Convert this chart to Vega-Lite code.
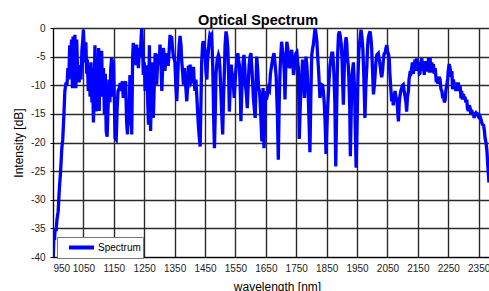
{
  "$schema": "https://vega.github.io/schema/vega-lite/v6.json",
  "width": 436,
  "height": 229,
  "autosize": "none",
  "padding": {"left": 53, "top": 28, "right": 0, "bottom": 34},
  "background": "white",
  "config": {
    "view": {"stroke": null},
    "font": "Liberation Sans",
    "axis": {"gridColor": "#2a2a2a", "gridWidth": 1.4, "gridOpacity": 1, "domainColor": "#000", "domainWidth": 1, "labelColor": "#222", "labelFontSize": 10, "titleFontSize": 12, "titleFontWeight": "normal", "titleColor": "#000", "tickColor": "#000"}
  },
  "title": {"text": "Optical Spectrum", "fontSize": 14.5, "fontWeight": "bold", "color": "#000", "anchor": "middle", "dx": -13, "dy": 8, "offset": 3},
  "data": {"values": [
    {"nm":951,"dB":-40},{"nm":953,"dB":-36},{"nm":955,"dB":-37},{"nm":957,"dB":-35},{"nm":960,"dB":-35.5},{"nm":963,"dB":-33.5},{"nm":967,"dB":-32},{"nm":971,"dB":-28},{"nm":975,"dB":-25},{"nm":979,"dB":-21},{"nm":982,"dB":-19.5},{"nm":986,"dB":-15},{"nm":989,"dB":-11},{"nm":993,"dB":-9.5},{"nm":996,"dB":-10},{"nm":999,"dB":-7},{"nm":1002,"dB":-9},{"nm":1005,"dB":-3},{"nm":1008,"dB":-8},{"nm":1011,"dB":-2},{"nm":1014,"dB":-10.5},{"nm":1016,"dB":-1.5},{"nm":1019,"dB":-7},{"nm":1022,"dB":-1.2},{"nm":1025,"dB":-10.5},{"nm":1028,"dB":-2},{"nm":1031,"dB":-8},{"nm":1034,"dB":-6.5},{"nm":1036,"dB":-9.5},{"nm":1039,"dB":-6.5},{"nm":1042,"dB":-9},{"nm":1045,"dB":-4},{"nm":1048,"dB":-2},{"nm":1050,"dB":-0.3},{"nm":1052,"dB":-3},{"nm":1055,"dB":-6},{"nm":1058,"dB":-2.5},{"nm":1061,"dB":-8},{"nm":1063,"dB":-5.5},{"nm":1066,"dB":-11},{"nm":1069,"dB":-7},{"nm":1072,"dB":-12},{"nm":1075,"dB":-6},{"nm":1078,"dB":-13},{"nm":1080,"dB":-7},{"nm":1083,"dB":-16.5},{"nm":1086,"dB":-10},{"nm":1088,"dB":-3},{"nm":1091,"dB":-14.6},{"nm":1094,"dB":-5},{"nm":1097,"dB":-13},{"nm":1100,"dB":-3.5},{"nm":1102,"dB":-14.5},{"nm":1105,"dB":-4.5},{"nm":1108,"dB":-10},{"nm":1110,"dB":-4},{"nm":1113,"dB":-12},{"nm":1116,"dB":-7},{"nm":1119,"dB":-15},{"nm":1122,"dB":-8},{"nm":1125,"dB":-18},{"nm":1128,"dB":-19},{"nm":1131,"dB":-14},{"nm":1134,"dB":-9},{"nm":1137,"dB":-13},{"nm":1140,"dB":-7},{"nm":1143,"dB":-5.2},{"nm":1146,"dB":-12},{"nm":1149,"dB":-5.5},{"nm":1152,"dB":-13},{"nm":1154,"dB":-19.2},{"nm":1158,"dB":-19.5},{"nm":1161,"dB":-14},{"nm":1164,"dB":-11},{"nm":1168,"dB":-10.5},{"nm":1171,"dB":-9.6},{"nm":1175,"dB":-11},{"nm":1178,"dB":-9.3},{"nm":1181,"dB":-12.2},{"nm":1185,"dB":-10},{"nm":1189,"dB":-9.3},{"nm":1192,"dB":-16.3},{"nm":1195,"dB":-18.6},{"nm":1198,"dB":-13},{"nm":1200,"dB":-17},{"nm":1203,"dB":-8.2},{"nm":1206,"dB":-13},{"nm":1209,"dB":-18.6},{"nm":1212,"dB":-5},{"nm":1214,"dB":-2.6},{"nm":1217,"dB":-5},{"nm":1220,"dB":-3.5},{"nm":1223,"dB":-6.5},{"nm":1225,"dB":-2.9},{"nm":1228,"dB":-5},{"nm":1231,"dB":-7},{"nm":1234,"dB":-3.5},{"nm":1237,"dB":-5},{"nm":1240,"dB":-1.5},{"nm":1242,"dB":0},{"nm":1245,"dB":-4},{"nm":1247,"dB":-8.2},{"nm":1250,"dB":-6},{"nm":1253,"dB":-11},{"nm":1256,"dB":-9},{"nm":1258,"dB":-6.5},{"nm":1261,"dB":-12},{"nm":1264,"dB":-16.9},{"nm":1267,"dB":-3},{"nm":1269,"dB":-10},{"nm":1271,"dB":-18},{"nm":1275,"dB":-6},{"nm":1277,"dB":-9},{"nm":1280,"dB":-15.7},{"nm":1283,"dB":-10},{"nm":1286,"dB":-4.4},{"nm":1289,"dB":-7},{"nm":1291,"dB":-9.9},{"nm":1294,"dB":-6},{"nm":1296,"dB":-4.5},{"nm":1299,"dB":-6.5},{"nm":1302,"dB":-2.9},{"nm":1305,"dB":-6},{"nm":1308,"dB":-11},{"nm":1311,"dB":-6.5},{"nm":1313,"dB":-3.5},{"nm":1316,"dB":-5},{"nm":1318,"dB":-7.5},{"nm":1321,"dB":-5.5},{"nm":1324,"dB":-4.4},{"nm":1327,"dB":-5},{"nm":1329,"dB":-6.6},{"nm":1332,"dB":-4},{"nm":1335,"dB":-1.2},{"nm":1338,"dB":-3},{"nm":1340,"dB":-1.4},{"nm":1343,"dB":-3.5},{"nm":1346,"dB":-5},{"nm":1349,"dB":-5.5},{"nm":1351,"dB":-6},{"nm":1354,"dB":-10},{"nm":1357,"dB":-12.8},{"nm":1360,"dB":-9},{"nm":1362,"dB":-6},{"nm":1365,"dB":-3},{"nm":1368,"dB":-1.4},{"nm":1371,"dB":-3},{"nm":1373,"dB":-5.5},{"nm":1376,"dB":-7.5},{"nm":1379,"dB":-9.9},{"nm":1382,"dB":-7},{"nm":1384,"dB":-8.5},{"nm":1387,"dB":-10.5},{"nm":1390,"dB":-12.8},{"nm":1393,"dB":-10},{"nm":1395,"dB":-6.6},{"nm":1398,"dB":-7.5},{"nm":1401,"dB":-6.4},{"nm":1404,"dB":-9.5},{"nm":1406,"dB":-9.3},{"nm":1409,"dB":-8},{"nm":1412,"dB":-6.8},{"nm":1414,"dB":-9},{"nm":1417,"dB":-11},{"nm":1420,"dB":-9},{"nm":1423,"dB":-12},{"nm":1428,"dB":-16.9},{"nm":1431,"dB":-19},{"nm":1434,"dB":-20.7},{"nm":1437,"dB":-12},{"nm":1439,"dB":-6},{"nm":1442,"dB":-3},{"nm":1444,"dB":-2.3},{"nm":1447,"dB":-3},{"nm":1450,"dB":-4},{"nm":1453,"dB":-7.5},{"nm":1456,"dB":-9},{"nm":1458,"dB":-6},{"nm":1461,"dB":-4},{"nm":1464,"dB":-2},{"nm":1466,"dB":-1.2},{"nm":1469,"dB":-1.5},{"nm":1472,"dB":-1.2},{"nm":1475,"dB":-6},{"nm":1477,"dB":-11},{"nm":1479,"dB":-17},{"nm":1481,"dB":-21},{"nm":1484,"dB":-14},{"nm":1486,"dB":-8},{"nm":1490,"dB":-5.5},{"nm":1494,"dB":-4.7},{"nm":1497,"dB":-5.3},{"nm":1499,"dB":-7},{"nm":1502,"dB":-11},{"nm":1505,"dB":-15},{"nm":1508,"dB":-18.6},{"nm":1511,"dB":-12},{"nm":1514,"dB":-7},{"nm":1516,"dB":-3},{"nm":1519,"dB":-0.6},{"nm":1522,"dB":-1.5},{"nm":1525,"dB":-3.5},{"nm":1528,"dB":-9},{"nm":1530,"dB":-14.6},{"nm":1533,"dB":-10},{"nm":1536,"dB":-6.4},{"nm":1538,"dB":-7.5},{"nm":1541,"dB":-8.5},{"nm":1544,"dB":-10.5},{"nm":1546,"dB":-12.2},{"nm":1549,"dB":-9.5},{"nm":1552,"dB":-7},{"nm":1555,"dB":-5.5},{"nm":1558,"dB":-4.4},{"nm":1560,"dB":-5.5},{"nm":1563,"dB":-6.5},{"nm":1566,"dB":-11},{"nm":1568,"dB":-16.3},{"nm":1571,"dB":-11},{"nm":1574,"dB":-7.5},{"nm":1576,"dB":-5.5},{"nm":1578,"dB":-4.7},{"nm":1581,"dB":-7},{"nm":1583,"dB":-10},{"nm":1586,"dB":-11.5},{"nm":1589,"dB":-14},{"nm":1592,"dB":-10},{"nm":1595,"dB":-6.5},{"nm":1598,"dB":-5},{"nm":1601,"dB":-4.4},{"nm":1604,"dB":-7},{"nm":1607,"dB":-10},{"nm":1609,"dB":-12.2},{"nm":1612,"dB":-14},{"nm":1615,"dB":-15.7},{"nm":1618,"dB":-9},{"nm":1620,"dB":-5},{"nm":1623,"dB":-7},{"nm":1626,"dB":-10.5},{"nm":1629,"dB":-11},{"nm":1631,"dB":-12.5},{"nm":1634,"dB":-16},{"nm":1637,"dB":-19.8},{"nm":1639,"dB":-14},{"nm":1641,"dB":-10.5},{"nm":1643,"dB":-16},{"nm":1644,"dB":-21},{"nm":1647,"dB":-14},{"nm":1649,"dB":-11},{"nm":1652,"dB":-12.5},{"nm":1656,"dB":-11.5},{"nm":1659,"dB":-10.5},{"nm":1662,"dB":-10.8},{"nm":1665,"dB":-8},{"nm":1669,"dB":-6.6},{"nm":1672,"dB":-5.5},{"nm":1677,"dB":-4.4},{"nm":1680,"dB":-6},{"nm":1684,"dB":-8.5},{"nm":1688,"dB":-15},{"nm":1691,"dB":-23},{"nm":1694,"dB":-13},{"nm":1697,"dB":-7},{"nm":1700,"dB":-4},{"nm":1702,"dB":-2.4},{"nm":1705,"dB":-4},{"nm":1708,"dB":-5.2},{"nm":1711,"dB":-8},{"nm":1713,"dB":-12.5},{"nm":1716,"dB":-6},{"nm":1719,"dB":-2.4},{"nm":1722,"dB":-3.5},{"nm":1724,"dB":-5},{"nm":1727,"dB":-7},{"nm":1730,"dB":-6.6},{"nm":1732,"dB":-4.5},{"nm":1735,"dB":-3.8},{"nm":1738,"dB":-6},{"nm":1741,"dB":-8.2},{"nm":1744,"dB":-7},{"nm":1746,"dB":-5.2},{"nm":1749,"dB":-4.4},{"nm":1752,"dB":-4.2},{"nm":1755,"dB":-6},{"nm":1757,"dB":-7},{"nm":1760,"dB":-19.4},{"nm":1763,"dB":-14},{"nm":1766,"dB":-9.9},{"nm":1769,"dB":-7.5},{"nm":1771,"dB":-5.5},{"nm":1774,"dB":-8},{"nm":1777,"dB":-12.2},{"nm":1780,"dB":-9},{"nm":1782,"dB":-5},{"nm":1785,"dB":-6.5},{"nm":1789,"dB":-11},{"nm":1792,"dB":-16},{"nm":1795,"dB":-21.7},{"nm":1798,"dB":-12},{"nm":1801,"dB":-4.7},{"nm":1804,"dB":-3.5},{"nm":1806,"dB":-3},{"nm":1809,"dB":-1.5},{"nm":1812,"dB":0},{"nm":1815,"dB":-1},{"nm":1818,"dB":-2.4},{"nm":1820,"dB":-4.5},{"nm":1823,"dB":-7},{"nm":1826,"dB":-10},{"nm":1828,"dB":-12.2},{"nm":1831,"dB":-11},{"nm":1834,"dB":-9.9},{"nm":1837,"dB":-10},{"nm":1839,"dB":-11},{"nm":1842,"dB":-13},{"nm":1845,"dB":-16.5},{"nm":1848,"dB":-22},{"nm":1851,"dB":-17},{"nm":1854,"dB":-13.2},{"nm":1858,"dB":-9},{"nm":1861,"dB":-6.6},{"nm":1864,"dB":-5.5},{"nm":1867,"dB":-4.4},{"nm":1870,"dB":-4.4},{"nm":1872,"dB":-6},{"nm":1874,"dB":-8},{"nm":1877,"dB":-13},{"nm":1880,"dB":-24.2},{"nm":1883,"dB":-14},{"nm":1886,"dB":-5},{"nm":1889,"dB":-1.2},{"nm":1892,"dB":-0.6},{"nm":1895,"dB":-1.5},{"nm":1898,"dB":-2.8},{"nm":1901,"dB":-6},{"nm":1903,"dB":-10},{"nm":1905,"dB":-13.4},{"nm":1908,"dB":-7},{"nm":1911,"dB":-3},{"nm":1914,"dB":-1.6},{"nm":1916,"dB":-2.5},{"nm":1918,"dB":-5},{"nm":1921,"dB":-6.5},{"nm":1923,"dB":-8.6},{"nm":1926,"dB":-14},{"nm":1928,"dB":-22.4},{"nm":1931,"dB":-14},{"nm":1933,"dB":-8.5},{"nm":1936,"dB":-7},{"nm":1938,"dB":-6},{"nm":1940,"dB":-8.5},{"nm":1942,"dB":-11},{"nm":1944,"dB":-17},{"nm":1947,"dB":-24.4},{"nm":1950,"dB":-17},{"nm":1953,"dB":-8.5},{"nm":1956,"dB":-4},{"nm":1959,"dB":-2.4},{"nm":1963,"dB":-0.3},{"nm":1966,"dB":-1.5},{"nm":1969,"dB":-3.5},{"nm":1972,"dB":-8},{"nm":1976,"dB":-15.7},{"nm":1979,"dB":-10},{"nm":1982,"dB":-7},{"nm":1985,"dB":-3},{"nm":1987,"dB":-1.7},{"nm":1990,"dB":-1},{"nm":1993,"dB":-0.6},{"nm":1996,"dB":-2},{"nm":1998,"dB":-3.5},{"nm":2001,"dB":-7.5},{"nm":2004,"dB":-11.6},{"nm":2007,"dB":-10},{"nm":2009,"dB":-8.5},{"nm":2012,"dB":-6},{"nm":2015,"dB":-4.7},{"nm":2018,"dB":-4.5},{"nm":2020,"dB":-4.4},{"nm":2023,"dB":-5.5},{"nm":2026,"dB":-6.6},{"nm":2029,"dB":-8},{"nm":2031,"dB":-8.6},{"nm":2034,"dB":-7.5},{"nm":2036,"dB":-6},{"nm":2039,"dB":-4.5},{"nm":2042,"dB":-4.4},{"nm":2045,"dB":-3.5},{"nm":2048,"dB":-3},{"nm":2050,"dB":-4},{"nm":2053,"dB":-4.5},{"nm":2056,"dB":-5.4},{"nm":2058,"dB":-8},{"nm":2061,"dB":-10.5},{"nm":2064,"dB":-12.8},{"nm":2067,"dB":-11.5},{"nm":2069,"dB":-13.5},{"nm":2072,"dB":-12},{"nm":2075,"dB":-11},{"nm":2078,"dB":-12},{"nm":2081,"dB":-12.5},{"nm":2083,"dB":-14},{"nm":2086,"dB":-16.3},{"nm":2089,"dB":-13},{"nm":2091,"dB":-12},{"nm":2094,"dB":-11},{"nm":2097,"dB":-10.5},{"nm":2100,"dB":-10},{"nm":2102,"dB":-9.9},{"nm":2105,"dB":-11},{"nm":2108,"dB":-12},{"nm":2111,"dB":-13},{"nm":2113,"dB":-14.6},{"nm":2116,"dB":-12},{"nm":2119,"dB":-11},{"nm":2121,"dB":-9},{"nm":2124,"dB":-7.9},{"nm":2127,"dB":-8},{"nm":2130,"dB":-7},{"nm":2132,"dB":-6},{"nm":2135,"dB":-8},{"nm":2138,"dB":-6.5},{"nm":2141,"dB":-5.5},{"nm":2143,"dB":-7.5},{"nm":2146,"dB":-5.3},{"nm":2149,"dB":-7},{"nm":2152,"dB":-6},{"nm":2155,"dB":-8},{"nm":2157,"dB":-7.9},{"nm":2160,"dB":-6},{"nm":2163,"dB":-5.3},{"nm":2166,"dB":-7.5},{"nm":2168,"dB":-6.2},{"nm":2171,"dB":-8.2},{"nm":2174,"dB":-5.8},{"nm":2177,"dB":-7.5},{"nm":2179,"dB":-5.8},{"nm":2182,"dB":-7.6},{"nm":2185,"dB":-5.2},{"nm":2188,"dB":-7.8},{"nm":2190,"dB":-5.1},{"nm":2193,"dB":-7.3},{"nm":2196,"dB":-6},{"nm":2199,"dB":-7.8},{"nm":2201,"dB":-6.3},{"nm":2204,"dB":-8},{"nm":2207,"dB":-7},{"nm":2210,"dB":-9},{"nm":2212,"dB":-8.9},{"nm":2215,"dB":-9.5},{"nm":2218,"dB":-9.5},{"nm":2220,"dB":-8.5},{"nm":2223,"dB":-9},{"nm":2226,"dB":-10.7},{"nm":2229,"dB":-11},{"nm":2232,"dB":-12.3},{"nm":2234,"dB":-11.5},{"nm":2237,"dB":-13},{"nm":2240,"dB":-12.5},{"nm":2242,"dB":-11},{"nm":2245,"dB":-10},{"nm":2248,"dB":-8.9},{"nm":2250,"dB":-7.5},{"nm":2253,"dB":-6.3},{"nm":2256,"dB":-7},{"nm":2259,"dB":-8.5},{"nm":2262,"dB":-7.5},{"nm":2264,"dB":-10.7},{"nm":2267,"dB":-9},{"nm":2270,"dB":-10.5},{"nm":2272,"dB":-9.5},{"nm":2275,"dB":-11},{"nm":2278,"dB":-9.5},{"nm":2281,"dB":-10.5},{"nm":2283,"dB":-9.5},{"nm":2286,"dB":-11},{"nm":2289,"dB":-10},{"nm":2292,"dB":-12.3},{"nm":2294,"dB":-11},{"nm":2297,"dB":-12.5},{"nm":2300,"dB":-11.5},{"nm":2302,"dB":-12.5},{"nm":2305,"dB":-12},{"nm":2308,"dB":-13},{"nm":2311,"dB":-12.5},{"nm":2313,"dB":-14},{"nm":2316,"dB":-14.5},{"nm":2319,"dB":-13.5},{"nm":2322,"dB":-14},{"nm":2324,"dB":-15},{"nm":2327,"dB":-14.3},{"nm":2330,"dB":-15},{"nm":2333,"dB":-15},{"nm":2335,"dB":-15.7},{"nm":2338,"dB":-15},{"nm":2341,"dB":-14.8},{"nm":2344,"dB":-15},{"nm":2346,"dB":-15},{"nm":2349,"dB":-15.5},{"nm":2352,"dB":-15.7},{"nm":2355,"dB":-15.5},{"nm":2358,"dB":-16},{"nm":2360,"dB":-16.5},{"nm":2363,"dB":-16.9},{"nm":2366,"dB":-17},{"nm":2369,"dB":-18},{"nm":2371,"dB":-19.2},{"nm":2374,"dB":-20},{"nm":2377,"dB":-21.3},{"nm":2380,"dB":-24},{"nm":2384,"dB":-27}
  ]},
  "mark": {"type": "line", "strokeWidth": 3.3, "clip": true, "interpolate": "linear"},
  "encoding": {
    "x": {"field": "nm", "type": "quantitative", "scale": {"domain": [950, 2384], "nice": false, "zero": false},
      "axis": {"values": [950,1050,1150,1250,1350,1450,1550,1650,1750,1850,1950,2050,2150,2250,2350], "title": "wavelength [nm]", "grid": true, "ticks": false, "tickSize": 0, "labelPadding": 6, "titleX": 224, "titleY": 33, "titleBaseline": "alphabetic", "titleAlign": "center", "labelExpr": "'' + datum.value"}},
    "y": {"field": "dB", "type": "quantitative", "scale": {"domain": [-40, 0], "nice": false},
      "axis": {"values": [-40,-35,-30,-25,-20,-15,-10,-5,0], "title": "Intensity [dB]", "grid": true, "tickSize": 3, "labelPadding": 5, "titleX": -35, "titleY": 114.5, "titleAngle": -90, "titleAlign": "center", "titleBaseline": "middle", "labelExpr": "'' + datum.value"}},
    "color": {"datum": "Spectrum", "type": "nominal", "scale": {"range": ["#0000ff"]},
      "legend": {"orient": "none", "legendX": 4, "legendY": 209, "title": null, "symbolType": "M-2,0H2", "symbolSize": 156, "symbolStrokeWidth": 4, "labelFontSize": 10, "labelColor": "#000", "padding": 2, "symbolOffset": 14, "labelOffset": 8, "strokeColor": "#777", "fillColor": "#fff"}}
  }
}
